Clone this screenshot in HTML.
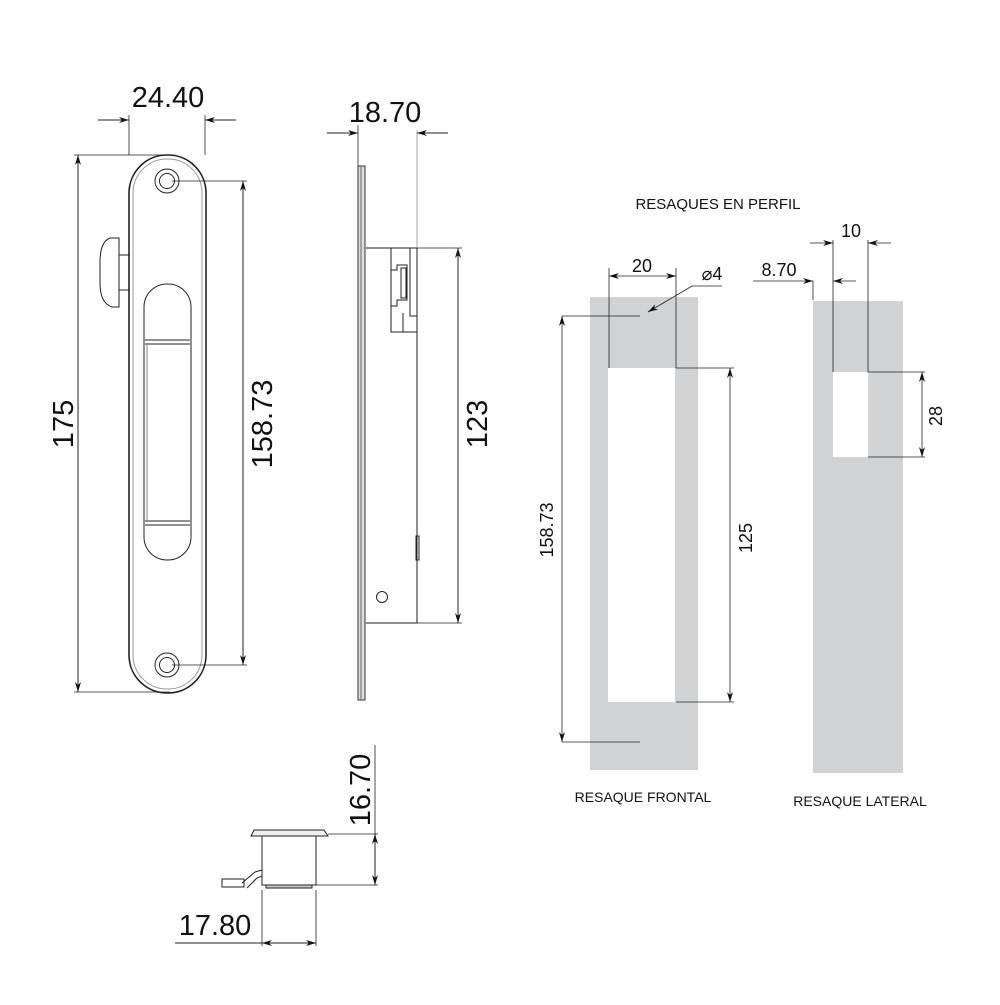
<!DOCTYPE html>
<html><head><style>
html,body{margin:0;padding:0;background:#fff}
text{font-family:"Liberation Sans",sans-serif;fill:#111}
</style></head><body>
<svg width="1000" height="1000" viewBox="0 0 1000 1000" xmlns="http://www.w3.org/2000/svg">
<defs>
<marker id="a" viewBox="0 0 10 6" refX="10" refY="3" markerWidth="10" markerHeight="6" orient="auto-start-reverse" markerUnits="userSpaceOnUse"><path d="M0,0 L10,3 L0,6 L3,3z" fill="#111"/></marker>
</defs>
<g stroke="#222" stroke-width="1" fill="none">
<!-- FRONT VIEW -->
<rect x="129" y="155" width="77" height="538" rx="38" ry="38" stroke-width="1.6"/>
<rect x="133" y="159" width="69" height="530" rx="34" ry="34" stroke="#999"/>
<circle cx="167" cy="181" r="12"/><circle cx="167" cy="181" r="7.5"/>
<circle cx="167" cy="665" r="12"/><circle cx="167" cy="665" r="7.5"/>
<rect x="144" y="284" width="47" height="276" rx="23" ry="23"/>
<line x1="145" y1="340" x2="190" y2="340"/><line x1="145" y1="344" x2="190" y2="344"/>
<line x1="145" y1="521" x2="190" y2="521"/><line x1="145" y1="525" x2="190" y2="525"/>
<line x1="147" y1="344" x2="147" y2="521" stroke="#888"/>
<path d="M119,238 L110,238 Q100,242 100,262 L100,283 Q100,303 112,307 L119,307 Z"/>
<line x1="119" y1="255" x2="130" y2="255"/><line x1="119" y1="290" x2="130" y2="290"/>
<!-- dims front -->
<line x1="129" y1="115" x2="129" y2="155" stroke-width="0.8"/>
<line x1="205" y1="115" x2="205" y2="155" stroke-width="0.8"/>
<line x1="98" y1="120" x2="129" y2="120" marker-end="url(#a)"/>
<line x1="236" y1="120" x2="205" y2="120" marker-end="url(#a)"/>
<line x1="74" y1="155" x2="170" y2="155" stroke-width="0.8"/>
<line x1="74" y1="692" x2="170" y2="692" stroke-width="0.8"/>
<line x1="78" y1="155" x2="78" y2="692" marker-start="url(#a)" marker-end="url(#a)"/>
<line x1="172" y1="181" x2="247" y2="181" stroke-width="0.8"/>
<line x1="172" y1="665" x2="247" y2="665" stroke-width="0.8"/>
<line x1="243" y1="181" x2="243" y2="665" marker-start="url(#a)" marker-end="url(#a)"/>
<!-- SIDE VIEW -->
<rect x="358" y="166" width="7" height="534" fill="#ddd" stroke="#333"/>
<line x1="361" y1="166" x2="361" y2="700" stroke="#666"/>
<path d="M366,248 L417,248 L417,623 L366,623" />
<rect x="391" y="248" width="26" height="84"/>
<path d="M391,270 L397,270 L397,265 L407,265 L407,300 L397,300 L397,306 L391,306"/>
<rect x="401" y="268" width="5" height="30"/>
<path d="M410,248 L417,248 L417,316 L410,316 Z"/>
<line x1="403" y1="313" x2="403" y2="332"/>
<rect x="416" y="536" width="3" height="24"/>
<circle cx="382" cy="597" r="5.5"/>
<line x1="358" y1="125" x2="358" y2="166" stroke-width="0.8"/>
<line x1="417" y1="130" x2="417" y2="248" stroke="#aaa"/>
<line x1="327" y1="133" x2="358" y2="133" marker-end="url(#a)"/>
<line x1="448" y1="133" x2="417" y2="133" marker-end="url(#a)"/>
<line x1="366" y1="248" x2="462" y2="248" stroke-width="0.8"/>
<line x1="417" y1="623" x2="462" y2="623" stroke-width="0.8"/>
<line x1="458" y1="248" x2="458" y2="623" marker-start="url(#a)" marker-end="url(#a)"/>
<!-- BOTTOM VIEW -->
<path d="M251,836 L254,830 L324,830 L328,836 Z" fill="#eee"/>
<rect x="262" y="836" width="54" height="49"/>
<rect x="266" y="885" width="46" height="3" fill="#ccc"/>
<path d="M262,870 L255,872 L242,883"/>
<path d="M262,876 L257,878 L247,888"/>
<rect x="222" y="879" width="22" height="8"/>
<line x1="328" y1="834" x2="378" y2="834" stroke-width="0.8"/>
<line x1="316" y1="885" x2="378" y2="885" stroke-width="0.8"/>
<line x1="375" y1="745" x2="375" y2="834" stroke-width="0.8"/>
<line x1="375" y1="834" x2="375" y2="885" marker-start="url(#a)" marker-end="url(#a)"/>
<line x1="262" y1="890" x2="262" y2="946" stroke-width="0.8"/>
<line x1="316" y1="890" x2="316" y2="946" stroke-width="0.8"/>
<line x1="175" y1="943" x2="316" y2="943"/>
<line x1="289" y1="943" x2="262" y2="943" marker-end="url(#a)"/>
<line x1="289" y1="943" x2="316" y2="943" marker-end="url(#a)"/>
</g>
<!-- RESAQUES -->
<rect x="590" y="297" width="108" height="473" fill="#d1d2d4"/>
<rect x="608" y="368" width="67" height="334" fill="#fff"/>
<rect x="813" y="301" width="90" height="472" fill="#d1d2d4"/>
<rect x="833" y="372" width="35" height="85" fill="#fff"/>
<g stroke="#222" stroke-width="0.8" fill="none">
<line x1="609" y1="268" x2="609" y2="368"/><line x1="676" y1="268" x2="676" y2="368"/>
<line x1="609" y1="276" x2="676" y2="276" marker-start="url(#a)" marker-end="url(#a)"/>
<path d="M722,286 L692,286 L648,312" marker-end="url(#a)"/>
<line x1="562" y1="316" x2="640" y2="316"/>
<line x1="562" y1="742" x2="640" y2="742"/>
<line x1="562" y1="316" x2="562" y2="742" marker-start="url(#a)" marker-end="url(#a)"/>
<line x1="676" y1="368" x2="734" y2="368"/><line x1="676" y1="702" x2="734" y2="702"/>
<line x1="730" y1="368" x2="730" y2="702" marker-start="url(#a)" marker-end="url(#a)"/>
<line x1="833" y1="240" x2="833" y2="372"/><line x1="868" y1="240" x2="868" y2="372"/>
<line x1="810" y1="243" x2="833" y2="243" marker-end="url(#a)"/>
<line x1="891" y1="243" x2="868" y2="243" marker-end="url(#a)"/>
<line x1="813" y1="281" x2="813" y2="300"/>
<line x1="753" y1="281" x2="813" y2="281" marker-end="url(#a)"/>
<line x1="856" y1="281" x2="833" y2="281" marker-end="url(#a)"/>
<line x1="868" y1="372" x2="925" y2="372"/><line x1="868" y1="457" x2="925" y2="457"/>
<line x1="922" y1="372" x2="922" y2="457" marker-start="url(#a)" marker-end="url(#a)"/>
</g>
<!-- TEXT -->
<text x="168" y="107" font-size="29" text-anchor="middle">24.40</text>
<text x="385" y="122" font-size="29" text-anchor="middle">18.70</text>
<text transform="translate(73,424) rotate(-90)" font-size="29" text-anchor="middle">175</text>
<text transform="translate(272,424) rotate(-90)" font-size="29" text-anchor="middle">158.73</text>
<text transform="translate(487,424) rotate(-90)" font-size="29" text-anchor="middle">123</text>
<text transform="translate(370,790) rotate(-90)" font-size="29" text-anchor="middle">16.70</text>
<text x="215" y="935" font-size="29" text-anchor="middle">17.80</text>
<text x="718" y="209" font-size="15" text-anchor="middle">RESAQUES EN PERFIL</text>
<text x="642" y="272" font-size="18" text-anchor="middle">20</text>
<text x="712" y="280" font-size="18" text-anchor="middle">⌀4</text>
<text x="851" y="237" font-size="18" text-anchor="middle">10</text>
<text x="779" y="276" font-size="18" text-anchor="middle">8.70</text>
<text transform="translate(553,530) rotate(-90)" font-size="18" text-anchor="middle">158.73</text>
<text transform="translate(752,538) rotate(-90)" font-size="18" text-anchor="middle">125</text>
<text transform="translate(942,416) rotate(-90)" font-size="18" text-anchor="middle">28</text>
<text x="643" y="802" font-size="14" text-anchor="middle">RESAQUE FRONTAL</text>
<text x="860" y="806" font-size="14" text-anchor="middle">RESAQUE LATERAL</text>
</svg>
</body></html>
